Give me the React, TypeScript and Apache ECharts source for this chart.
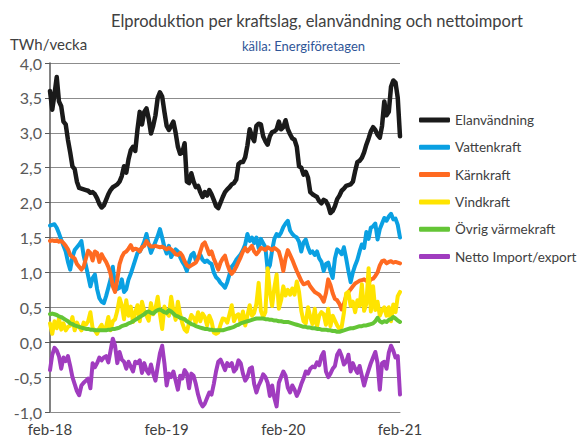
import React, { useEffect, useRef } from "react";
import * as echarts from "echarts";

const xTickLabels = ["feb-18", "feb-19", "feb-20", "feb-21"];

const elanvandning = [
  3.6, 3.33, 3.55, 3.8, 3.45, 3.38, 3.16, 3.12, 2.9, 2.72, 2.52, 2.48, 2.3,
  2.21, 2.2, 2.19, 2.18, 2.17, 2.14, 2.15, 2.12, 2.06, 1.98, 1.93, 1.96, 2.04,
  2.12, 2.18, 2.22, 2.24, 2.26, 2.3, 2.38, 2.52, 2.43, 2.62, 2.75, 2.8, 2.74,
  3.05, 3.3, 3.12, 3.3, 3.35, 3.2, 2.99, 3.1, 3.25, 3.5, 3.58, 3.52, 3.3,
  3.1, 3.04, 3.1, 3.16, 3.0, 2.8, 2.7, 2.72, 2.85, 2.3, 2.28, 2.42, 2.3,
  2.22, 2.24, 2.15, 2.08, 2.15, 2.1, 2.18, 2.12, 2.04, 1.95, 1.92, 2.0, 2.08,
  2.15, 2.19, 2.22, 2.26, 2.28, 2.33, 2.55, 2.58, 2.58, 2.65, 2.82, 3.05, 2.95,
  2.88, 3.1, 3.13, 3.12, 2.95, 2.88, 2.83, 2.95, 3.01, 3.02, 3.05, 3.16, 3.05,
  3.08, 3.18, 3.05, 2.98, 2.92, 2.9, 2.8, 2.52, 2.5, 2.4, 2.44, 2.36, 2.15,
  2.12, 2.1, 2.08, 2.02, 1.99, 2.04, 2.02, 1.96, 1.85, 1.88, 1.95, 2.05, 2.1,
  2.17, 2.2, 2.24, 2.25, 2.26, 2.3, 2.45, 2.58, 2.6, 2.64, 2.72, 2.83, 2.92,
  3.02, 3.08, 3.04, 2.97, 2.93, 3.1, 3.45, 3.25, 3.3, 3.66, 3.75, 3.72, 3.5, 2.95,
];

const vattenkraft = [
  1.67, 1.68, 1.69, 1.64, 1.56, 1.47, 1.38, 1.3, 1.15, 1.04, 1.22, 1.32, 1.36,
  1.4, 1.45, 1.24, 1.1, 0.95, 0.8, 0.92, 0.97, 0.76, 0.63, 0.58, 0.56, 0.66,
  0.78, 0.9, 1.08, 0.8, 0.76, 0.78, 0.9, 0.72, 0.76, 0.9, 0.98, 1.08, 1.18,
  1.28, 1.3, 1.36, 1.44, 1.55, 1.4, 1.28, 1.36, 1.44, 1.52, 1.62, 1.5, 1.36,
  1.27, 1.38, 1.22, 1.28, 1.33, 1.3, 1.22, 1.15, 1.1, 1.02, 1.15, 1.25, 1.28,
  1.17, 1.22, 1.25, 1.18, 1.15, 1.17, 1.14, 1.12, 1.0, 0.93, 0.9, 0.85, 0.82,
  0.78, 0.86, 0.97, 1.08, 1.12, 1.18, 1.22, 1.26, 1.32, 1.4, 1.55, 1.45, 1.5,
  1.42, 1.5, 1.35, 1.48, 1.42, 1.36, 1.04, 1.1, 1.32, 1.48, 1.55, 1.52, 1.57,
  1.65, 1.7, 1.74, 1.6, 1.55, 1.52, 1.5, 1.44, 1.3, 1.43, 1.47, 1.36, 1.28,
  1.3, 1.25, 1.3, 1.2, 1.15, 1.02, 1.12, 1.14, 1.02, 0.92, 1.2, 1.33, 1.3,
  1.26, 1.36, 1.2, 1.02, 0.86, 1.0, 1.1, 1.18, 1.3, 1.4, 1.35, 1.58, 1.48,
  1.64, 1.66, 1.7, 1.47, 1.62, 1.7, 1.78, 1.74, 1.8, 1.84, 1.76, 1.77, 1.68, 1.5,
];

const karnkraft = [
  1.45, 1.46, 1.45, 1.46, 1.44, 1.45, 1.42, 1.38, 1.33, 1.25, 1.22, 1.2, 1.12,
  1.08, 1.04, 1.08, 1.2, 1.31, 1.28, 1.17, 1.3, 1.28, 1.15, 1.26, 1.2, 1.15,
  1.08, 0.98, 0.8, 0.72, 0.9, 1.12, 1.22, 1.28, 1.3, 1.34, 1.39, 1.32, 1.34,
  1.33, 1.3, 1.36, 1.38, 1.45, 1.4, 1.37, 1.37, 1.38, 1.37, 1.36, 1.37, 1.35,
  1.33, 1.35, 1.33, 1.3, 1.26, 1.25, 1.28, 1.24, 1.16, 1.1, 1.08, 1.1, 1.12,
  1.14, 1.2, 1.3, 1.4, 1.43, 1.35, 1.26, 1.3, 1.2, 1.12, 1.04, 1.14, 1.2,
  1.24, 1.12, 1.03, 0.98, 1.02, 1.08, 1.15, 1.22, 1.3, 1.35, 1.3, 1.34, 1.38,
  1.3, 1.26, 1.3, 1.35, 1.34, 1.32, 1.36, 1.34, 1.32, 1.35, 1.33, 1.3, 1.18,
  1.02, 1.2, 1.32, 1.25, 1.18, 1.1, 1.02, 0.95, 0.88, 0.83, 0.84, 0.86, 0.8,
  0.76, 0.72, 0.7, 0.68, 0.64, 0.58, 0.7, 0.9, 0.82, 0.7, 0.62, 0.6, 0.55,
  0.47, 0.55, 0.66, 0.72, 0.76, 0.8, 0.84, 0.86, 0.88, 0.89, 0.9, 0.88, 0.86,
  0.9, 0.91, 0.95, 1.0, 1.1, 1.16, 1.17, 1.13, 1.15, 1.16, 1.14, 1.15, 1.14, 1.13,
];

const vindkraft = [
  0.27, 0.12, 0.3, 0.2, 0.34, 0.18, 0.27, 0.17, 0.22, 0.24, 0.36, 0.17, 0.28,
  0.22, 0.17, 0.28, 0.25, 0.3, 0.43, 0.2, 0.17, 0.12, 0.2, 0.25, 0.18, 0.22,
  0.36, 0.17, 0.3, 0.33, 0.45, 0.63, 0.53, 0.33, 0.6, 0.38, 0.51, 0.29, 0.43,
  0.53, 0.3, 0.58, 0.45, 0.38, 0.31, 0.56, 0.4, 0.48, 0.65, 0.4, 0.19, 0.51,
  0.42, 0.38, 0.65, 0.45, 0.32, 0.58, 0.4, 0.27, 0.18, 0.15, 0.28, 0.39, 0.35,
  0.28, 0.43, 0.3, 0.41, 0.36, 0.24, 0.38, 0.3, 0.14, 0.12, 0.14, 0.25, 0.34,
  0.33, 0.28, 0.4, 0.53, 0.3, 0.38, 0.4, 0.28, 0.44, 0.24, 0.38, 0.53, 0.38,
  0.42, 0.55, 0.85, 0.45, 0.36, 0.43, 1.06, 0.72, 0.52, 0.78, 0.97, 0.48, 0.6,
  0.8, 0.67, 0.75, 0.68, 0.77, 0.68, 0.87, 0.72, 0.45, 0.3, 0.27, 0.5, 0.36,
  0.26, 0.48, 0.22, 0.38, 0.43, 0.4, 0.25, 0.48, 0.23, 0.38, 0.31, 0.24, 0.19,
  0.22, 0.42, 0.7, 0.72, 0.52, 0.58, 0.43, 0.6, 0.52, 0.83, 0.45, 0.55, 1.06,
  0.44, 0.8, 0.46, 0.58, 0.38, 0.46, 0.5, 0.38, 0.5, 0.3, 0.54, 0.43, 0.66, 0.72,
];

const ovrigVarmekraft = [
  0.4, 0.41, 0.4, 0.39, 0.37, 0.36, 0.34, 0.32, 0.3, 0.27, 0.26, 0.24, 0.23,
  0.22, 0.21, 0.2, 0.19, 0.19, 0.18, 0.18, 0.17, 0.17, 0.17, 0.17, 0.17, 0.17,
  0.18, 0.18, 0.19, 0.19, 0.2, 0.21, 0.23, 0.24, 0.25, 0.27, 0.28, 0.3, 0.32,
  0.34, 0.36, 0.38, 0.4, 0.43, 0.44, 0.42, 0.41, 0.44, 0.46, 0.47, 0.45, 0.43,
  0.42, 0.46, 0.44, 0.41, 0.38, 0.37, 0.35, 0.34, 0.33, 0.3, 0.28, 0.26, 0.25,
  0.23, 0.22, 0.21, 0.2, 0.19, 0.19, 0.18, 0.18, 0.17, 0.17, 0.17, 0.17, 0.17,
  0.18, 0.19, 0.2, 0.21, 0.22, 0.24, 0.25, 0.27, 0.28, 0.29, 0.3, 0.31, 0.32,
  0.33, 0.34, 0.34, 0.34, 0.34, 0.33, 0.33, 0.32, 0.32, 0.31, 0.31, 0.3, 0.3,
  0.29, 0.29, 0.29, 0.28, 0.27, 0.26, 0.25, 0.24, 0.23, 0.22, 0.22, 0.21, 0.21,
  0.2, 0.2, 0.19, 0.19, 0.18, 0.18, 0.18, 0.17, 0.17, 0.16, 0.16, 0.15, 0.15,
  0.16, 0.17, 0.18, 0.19, 0.2, 0.2, 0.21, 0.22, 0.23, 0.23, 0.24, 0.24, 0.25,
  0.26, 0.27, 0.3, 0.35, 0.3, 0.28, 0.3, 0.29, 0.32, 0.33, 0.36, 0.34, 0.31, 0.29,
];

const nettoImportExport = [
  -0.4, -0.18, -0.08, -0.12, -0.2, -0.38, -0.22, -0.27, -0.2, -0.34, -0.5, -0.6, -0.7,
  -0.76, -0.62, -0.58, -0.55, -0.52, -0.66, -0.3, -0.36, -0.3, -0.22, -0.26, -0.22, -0.2,
  -0.29, -0.12, 0.05, -0.05, -0.3, -0.14, -0.25, -0.28, -0.38, -0.28, -0.35, -0.42, -0.28,
  -0.3, -0.26, -0.44, -0.3, -0.4, -0.45, -0.32, -0.45, -0.55, -0.35, -0.16, -0.05, -0.3,
  -0.62, -0.45, -0.5, -0.42, -0.55, -0.68, -0.48, -0.52, -0.4, -0.45, -0.66, -0.45, -0.48,
  -0.6, -0.75, -0.86, -0.92, -0.88, -0.8, -0.72, -0.75, -0.6, -0.42, -0.28, -0.25, -0.32,
  -0.4, -0.3, -0.34, -0.3, -0.42, -0.38, -0.26, -0.3, -0.45, -0.55, -0.5, -0.38, -0.36,
  -0.6, -0.72, -0.62, -0.55, -0.46, -0.5, -0.58, -0.77, -0.62, -0.8, -0.92, -0.58, -0.5,
  -0.42, -0.48, -0.65, -0.72, -0.62, -0.68, -0.77, -0.7, -0.6, -0.52, -0.42, -0.45, -0.38,
  -0.35, -0.36, -0.29, -0.33, -0.2, -0.14, -0.42, -0.5, -0.45, -0.38, -0.34, -0.18, -0.12,
  -0.2, -0.32, -0.28, -0.18, -0.42, -0.3, -0.38, -0.44, -0.34, -0.48, -0.62, -0.5, -0.4,
  -0.3, -0.22, -0.14, -0.3, -0.68, -0.3, -0.28, -0.38, -0.15, -0.05, -0.12, -0.22, -0.2, -0.75,
];

const seriesNames = [
  "Elanvändning",
  "Vattenkraft",
  "Kärnkraft",
  "Vindkraft",
  "Övrig värmekraft",
  "Netto Import/export",
];
const seriesColors = ["#1a1a1a", "#0aa0e2", "#ff6a21", "#ffe400", "#64c536", "#a03cbf"];
const seriesData = [elanvandning, vattenkraft, karnkraft, vindkraft, ovrigVarmekraft, nettoImportExport];

const FONT = "Lato, 'Open Sans', sans-serif";

export default function App() {
  const ref = useRef<HTMLDivElement>(null);
  useEffect(() => {
    if (!ref.current) return;
    const chart = echarts.init(ref.current, undefined, { renderer: "svg" });
    const n = elanvandning.length;
    const categories = Array.from({ length: n }, (_, i) => String(i));
    const series: any[] = seriesNames.map((name, i) => ({
      name,
      type: "line",
      data: seriesData[i],
      symbol: "none",
      smooth: false,
      z: 3 + i,
      lineStyle: { color: seriesColors[i], width: i === 0 ? 4.5 : 4, cap: "round", join: "round" },
      itemStyle: { color: seriesColors[i] },
    }));
    series[0].markLine = {
      silent: true,
      symbol: "none",
      label: { show: false },
      lineStyle: { color: "#404040", width: 1.5, type: "solid" },
      data: [{ yAxis: 0 }],
    };
    chart.setOption({
      animation: false,
      textStyle: { fontFamily: FONT },
      title: [
        {
          text: "Elproduktion per kraftslag, elanvändning och nettoimport",
          left: 111,
          top: 12,
          padding: 0,
          textStyle: { fontSize: 16.5, fontWeight: "normal", color: "#404040", fontFamily: FONT },
        },
        {
          text: "källa: Energiföretagen",
          left: 242,
          top: 39,
          padding: 0,
          textStyle: { fontSize: 13, fontWeight: "normal", color: "#2f5597", fontFamily: FONT },
        },
        {
          text: "TWh/vecka",
          left: 10,
          top: 36,
          padding: 0,
          textStyle: { fontSize: 15, fontWeight: "normal", color: "#404040", fontFamily: FONT },
        },
      ],
      legend: {
        orient: "vertical",
        left: 419,
        top: 112,
        padding: 0,
        icon: "roundRect",
        itemWidth: 31,
        itemHeight: 5,
        itemGap: 11.3,
        data: seriesNames,
        textStyle: { fontSize: 13.5, color: "#404040", lineHeight: 16, fontFamily: FONT },
      },
      grid: { left: 50, right: 182, top: 63, bottom: 24, containLabel: false },
      xAxis: {
        type: "category",
        data: categories,
        boundaryGap: false,
        axisLine: { show: true, onZero: false, lineStyle: { color: "#8c8c8c", width: 1 } },
        axisTick: { show: false },
        splitLine: { show: false },
        axisLabel: {
          interval: 51,
          margin: 9,
          fontSize: 15,
          color: "#404040",
          fontFamily: FONT,
          formatter: (_v: string, idx: number) => xTickLabels[Math.round(idx / 52)] ?? "",
        },
      },
      yAxis: {
        type: "value",
        min: -1,
        max: 4,
        interval: 0.5,
        axisLine: { show: true, lineStyle: { color: "#595959", width: 1.5 } },
        axisTick: { show: true, inside: false, length: 5, lineStyle: { color: "#595959" } },
        splitLine: { show: true, lineStyle: { color: "#8c8c8c", width: 1 } },
        axisLabel: {
          margin: 8,
          fontSize: 16,
          color: "#595959",
          fontFamily: FONT,
          formatter: (v: number) => v.toFixed(1).replace(".", ","),
        },
      },
      series,
    });
    return () => chart.dispose();
  }, []);
  return (
    <div
      ref={ref}
      style={{ position: "fixed", left: 0, top: 0, width: 582, height: 436, background: "#fff" }}
    />
  );
}
